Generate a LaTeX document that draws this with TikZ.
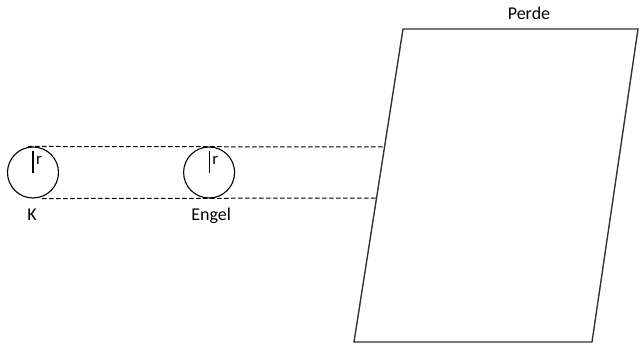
\documentclass[tikz,border=0pt]{standalone}
\usepackage{fontspec}
\setmainfont{Carlito}
\usepackage{tikz}
\usetikzlibrary{positioning, calc}
\tikzstyle{ball} = [circle, draw=black, line width=1.1pt, minimum size=51pt, inner sep=0pt]
\tikzstyle{screenedge} = [draw=black!80, line width=1.4pt, line join=miter]
\tikzstyle{beam} = [line width=1pt, dash pattern=on 4.5pt off 2.5pt]
\tikzstyle{rline} = [line width=1.1pt]
\tikzstyle{tag} = [font=\fontsize{18}{22}\selectfont, inner sep=0pt]
\tikzstyle{rtag} = [font=\fontsize{17}{20}\selectfont, inner sep=0pt]

\begin{document}
\begin{tikzpicture}[x=1pt, y=-1pt]
\useasboundingbox (0,0) rectangle (640,353);
\node (ballK) [ball] at (33,172.5) {};
\node (ballEngel) [ball, right=124pt of ballK] {};

\coordinate (scrTL) at (403,29);
\coordinate (scrTR) at (638,29);
\coordinate (scrBR) at (592,342);
\coordinate (scrBL) at (354,342);
\draw [screenedge] (scrTL) -- (scrTR) -- (scrBR) -- (scrBL) -- cycle;
\coordinate (hitTop) at ($(scrTL)!0.377!(scrBL)$);
\coordinate (hitBot) at ($(scrTL)!0.540!(scrBL)$);

\draw [beam] ([xshift=-5pt]ballK.north) -- (hitTop);
\draw [beam] ([xshift=9pt]ballK.south) -- (hitBot);

\draw [rline] (ballK.center) -- ([yshift=-5pt]ballK.north);
\draw [rline] (ballEngel.center) -- ([yshift=-5pt]ballEngel.north);
\node (rK) [rtag, anchor=base west] at ([xshift=3pt, yshift=-18pt]ballK.north) {r};
\node (rEngel) [rtag, anchor=base west] at ([xshift=3pt, yshift=-18pt]ballEngel.north) {r};

\node (labK) [tag, anchor=base] at ([xshift=-1pt, yshift=-22pt]ballK.south) {K};
\node (labEngel) [tag, anchor=base] at ([xshift=2pt, yshift=-22pt]ballEngel.south) {Engel};
\node (labPerde) [tag, anchor=base] at (529,20) {Perde};
\end{tikzpicture}
\end{document}
